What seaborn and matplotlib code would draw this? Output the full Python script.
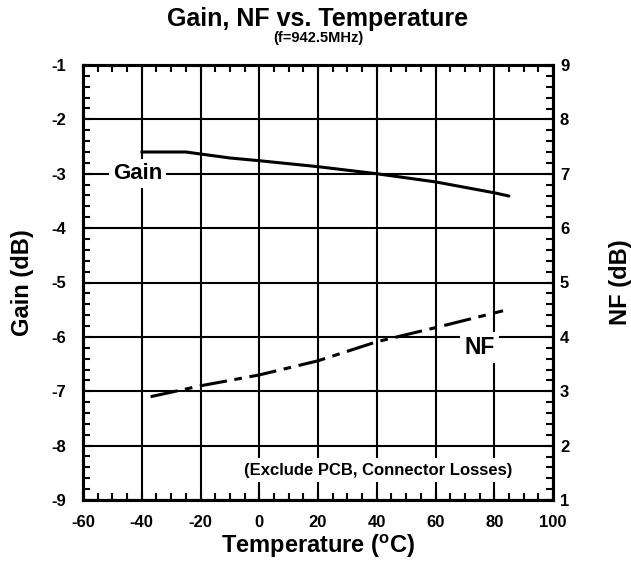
import matplotlib
matplotlib.use("Agg")
import matplotlib.pyplot as plt
import seaborn as sns
from matplotlib.ticker import MultipleLocator

# 資料
temp_gain = [-40, -25, -10, 0, 20, 40, 60, 80, 85]
gain = [-2.6, -2.6, -2.71, -2.76, -2.87, -3.0, -3.15, -3.35, -3.41]

temp_nf = [-37, -20, 0, 20, 40, 60, 83]
nf = [2.9, 3.1, 3.3, 3.56, 3.91, 4.17, 4.48]

x_ticks = [-60, -40, -20, 0, 20, 40, 60, 80, 100]
gain_ticks = [-9, -8, -7, -6, -5, -4, -3, -2, -1]
nf_ticks = [1, 2, 3, 4, 5, 6, 7, 8, 9]

sns.set_theme(style="ticks")
plt.rcParams["font.family"] = ["Liberation Sans", "DejaVu Sans"]
plt.rcParams["font.weight"] = "bold"
plt.rcParams["axes.unicode_minus"] = False
plt.rcParams["text.color"] = "black"
plt.rcParams["axes.labelcolor"] = "black"
plt.rcParams["xtick.color"] = "black"
plt.rcParams["ytick.color"] = "black"
plt.rcParams["mathtext.fontset"] = "custom"
plt.rcParams["mathtext.rm"] = "Liberation Sans:bold"
plt.rcParams["mathtext.it"] = "Liberation Sans:bold"
plt.rcParams["mathtext.default"] = "rm"

fig = plt.figure(figsize=(6.31, 5.69), dpi=100)
ax = fig.add_axes([83 / 631, 1 - 500 / 569, 470 / 631, 435 / 569])
ax2 = ax.twinx()

# Gain 實線
sns.lineplot(x=temp_gain, y=gain, ax=ax, color="black", linewidth=2.2, zorder=3)
# NF 點劃線
sns.lineplot(x=temp_nf, y=nf, ax=ax2, color="black", linewidth=2.2,
             linestyle=(0, (9, 2.5, 2.5, 2.5)), zorder=3)

ax.set_xlim(-60, 100)
ax.set_ylim(-9, -1)
ax2.set_ylim(1, 9)
ax.set_xticks(x_ticks)
ax.set_yticks(gain_ticks)
ax2.set_yticks(nf_ticks)
ax.xaxis.set_minor_locator(MultipleLocator(5))
ax.yaxis.set_minor_locator(MultipleLocator(0.2))
ax2.yaxis.set_minor_locator(MultipleLocator(0.2))

ax.grid(True, which="major", color="black", linewidth=1.5)
ax.set_axisbelow(True)

ax.tick_params(axis="both", which="both", direction="in", top=True, right=False,
               colors="black", labelsize=12, width=1.5)
ax.tick_params(axis="both", which="minor", length=5)
ax.tick_params(axis="both", which="major", length=6)
ax.tick_params(axis="y", pad=12)
ax.tick_params(axis="x", pad=11)
ax2.tick_params(axis="y", which="both", direction="in", colors="black",
                labelsize=12, width=1.5, pad=5)
ax2.tick_params(axis="y", which="minor", length=5)
ax2.tick_params(axis="y", which="major", length=6)

for sp in ax.spines.values():
    sp.set_linewidth(2.2)
    sp.set_color("black")
for sp in ax2.spines.values():
    sp.set_linewidth(2.2)
    sp.set_color("black")

ax.set_xlabel(r"Temperature ($^{o}$C)", fontsize=17, fontweight="bold")
ax.set_ylabel("Gain (dB)", fontsize=17, fontweight="bold")
ax2.set_ylabel("NF (dB)", fontsize=17, fontweight="bold")
ax.xaxis.label.set_va("center")
ax.yaxis.label.set_va("center")
ax2.yaxis.label.set_va("center")
ax.xaxis.set_label_coords(0.5, (500 - 546) / 435)
ax.yaxis.set_label_coords((22 - 83) / 470, 0.5)
ax2.yaxis.set_label_coords((620 - 83) / 470, 0.5)

# 標註
box = dict(facecolor="white", edgecolor="none", pad=3)
ax2.text(-41.4, 7.0, "Gain", ha="center", va="center", fontsize=16,
         fontweight="bold", bbox=box, zorder=4)
ax2.text(75, 3.8, "NF", ha="center", va="center", fontsize=16.5,
         fontweight="bold", bbox=box, zorder=4)
ax2.text(40.6, 1.55, "(Exclude PCB, Connector Losses)", ha="center", va="center",
         fontsize=12, fontweight="bold", bbox=box, zorder=4)

fig.text(318 / 631, 1 - 19 / 569, "Gain, NF vs. Temperature", ha="center",
         va="center", fontsize=18, fontweight="bold")
fig.text(318 / 631, 1 - 38 / 569, "(f=942.5MHz)", ha="center", va="center",
         fontsize=10.5, fontweight="bold")

fig.savefig("out.png", dpi=100)
